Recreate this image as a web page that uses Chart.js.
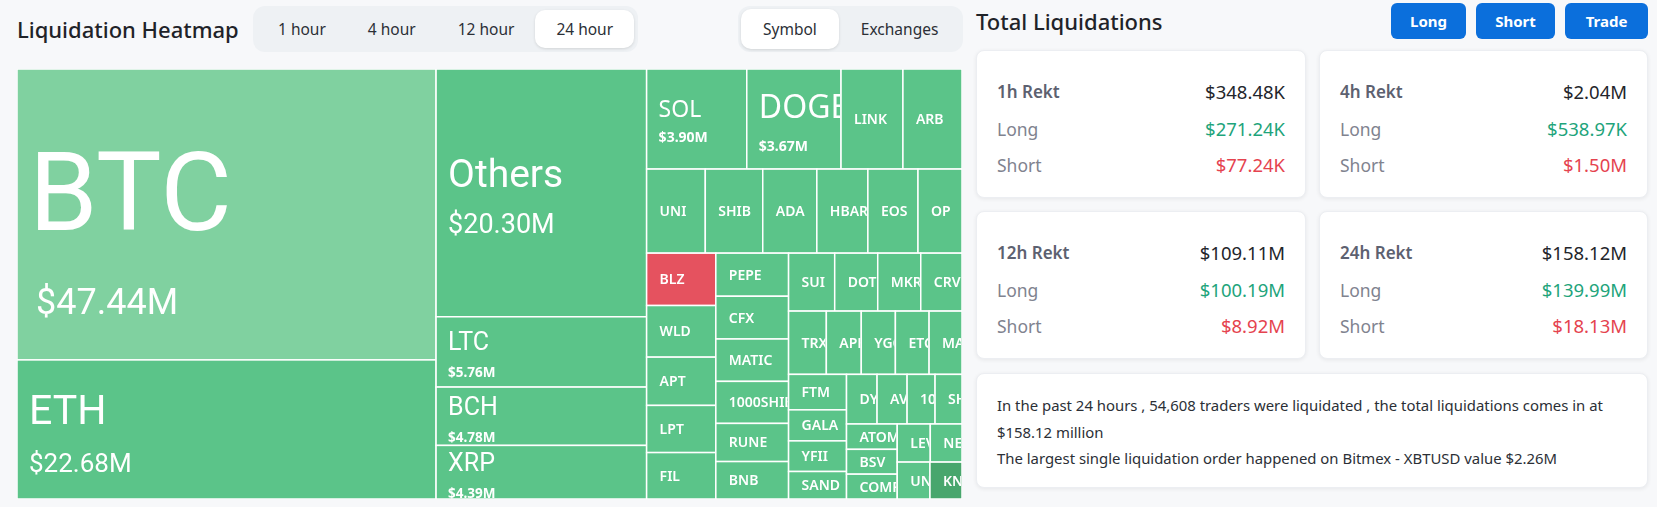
<!DOCTYPE html>
<html>
<head>
<meta charset="utf-8">
<script src="https://cdn.jsdelivr.net/npm/chart.js@4.4.0/dist/chart.umd.min.js"></script>
<style>
  body { margin: 0; width: 1657px; height: 507px; background: #f7f8fa; font-family: "Noto Sans", sans-serif; color: #1f2329; position: relative; overflow: hidden; }
  .title { position: absolute; top: 0; height: 58px; line-height: 58px; font-size: 22px; font-weight: 500; color: #1f2329; }
  .tabs { position: absolute; top: 6px; height: 46px; box-sizing: border-box; padding: 4px; background: #eef1f4; border-radius: 12px; display: flex; }
  .tabs span { display: block; height: 38px; line-height: 38px; padding: 0 21px; font-size: 15.5px; color: #2b2f36; border-radius: 10px; }
  .tabs span.on { background: #fff; box-shadow: 0 1px 3px rgba(0,0,0,.12); }
  #wrap { position: absolute; left: 17px; top: 69px; width: 945px; height: 430px; }
  .btn { position: absolute; top: 3px; height: 36px; line-height: 36px; text-align: center; background: #0b6fdc; color: #fff; font-weight: 700; font-size: 15px; border-radius: 6px; }
  .card { position: absolute; background: #fff; border: 1px solid #eceef2; border-radius: 8px; box-shadow: 0 1px 4px rgba(0,0,0,.07); box-sizing: border-box; }
  .rekt { padding: 23px 20px 0 20px; }
  .row { display: flex; justify-content: space-between; height: 36.5px; line-height: 36.5px; font-size: 17.5px; }
  .row .k { color: #80838f; }
  .row.head .k { color: #5d6170; font-weight: 600; font-size: 17px; }
  .row .v { color: #23252b; font-size: 18.5px; }
  .row .v.long { color: #1ea47b; }
  .row .v.short { color: #e5434f; }
  .note { padding: 18px 20px 0 20px; font-size: 14.9px; line-height: 26.5px; color: #2b2f36; white-space: nowrap; }
</style>
</head>
<body>
<div class="title" style="left:17px">Liquidation Heatmap</div>
<div class="tabs" style="left:253px">
  <span>1 hour</span><span>4 hour</span><span>12 hour</span><span class="on">24 hour</span>
</div>
<div class="tabs" style="left:738px;padding:3px">
  <span class="on" style="height:40px;line-height:40px;padding:0 22px">Symbol</span><span style="height:40px;line-height:40px;padding:0 22px">Exchanges</span>
</div>
<div id="wrap"><canvas id="heatmap"></canvas></div>

<div class="title" style="left:976px;height:42px;line-height:42px">Total Liquidations</div>
<div class="btn" style="left:1391px;width:75px">Long</div>
<div class="btn" style="left:1476px;width:79px">Short</div>
<div class="btn" style="left:1565px;width:83px">Trade</div>
<div id="cards"></div>
<div class="card note" style="left:976px;top:373px;width:672px;height:115px">
  In the past 24 hours , 54,608 traders were liquidated , the total liquidations comes in at<br>
  $158.12 million<br>
  The largest single liquidation order happened on Bitmex - XBTUSD value $2.26M
</div>

<script>
// 24h liquidations by symbol, in $M (sorted largest first, as the treemap lays them out)
const symbols = ["BTC", "ETH", "Others", "LTC", "BCH", "XRP", "SOL", "DOGE", "LINK", "ARB",
  "UNI", "SHIB", "ADA", "HBAR", "EOS", "OP", "BLZ", "WLD", "APT", "LPT", "FIL",
  "PEPE", "CFX", "MATIC", "1000SHIB", "RUNE", "BNB", "SUI", "DOT", "MKR", "CRV",
  "TRX", "APE", "YGG", "ETC", "MAGIC", "FTM", "GALA", "YFII", "SAND",
  "DYDX", "AVAX", "1000LUNC", "SHIB", "ATOM", "BSV", "COMP", "LEVER", "NEAR", "UNFI", "KNC"];
const liquidations = [47.44, 22.68, 20.30, 5.76, 4.78, 4.39, 3.90, 3.67, 2.41, 2.30,
  1.92, 1.88, 1.77, 1.67, 1.64, 1.44, 1.41, 1.39, 1.30, 1.27, 1.25,
  1.22, 1.21, 1.20, 1.19, 1.08, 1.06, 1.04, 0.97, 0.97, 0.93,
  0.93, 0.86, 0.84, 0.83, 0.81, 0.80, 0.70, 0.69, 0.62,
  0.59, 0.58, 0.54, 0.52, 0.50, 0.49, 0.49, 0.49, 0.47, 0.47, 0.46];
const showValue = ["BTC", "ETH", "Others", "LTC", "BCH", "XRP", "SOL", "DOGE"];

// summary cards
const periods = ["1h", "4h", "12h", "24h"];
const rektTotal = ["$348.48K", "$2.04M", "$109.11M", "$158.12M"];
const rektLong = ["$271.24K", "$538.97K", "$100.19M", "$139.99M"];
const rektShort = ["$77.24K", "$1.50M", "$8.92M", "$18.13M"];

const GREEN = "#5bc489";
const cellColors = { BTC: "#80d1a0", BLZ: "#e5525f", KNC: "#48a66d" };
const labelStyles = {
  BTC:    { l: "400 110px Roboto", v: "400 36px Roboto", lc: 79, vc: 26, gap: 58, dy: 18, vx: 7 },
  Others: { l: "400 39px Roboto", v: "400 27px Roboto", lc: 28, vc: 19, gap: 27, dy: 3 },
  ETH:    { l: "400 41px Roboto", v: "400 26px Roboto", lc: 29, vc: 19, gap: 29, dy: 4 },
  LTC:    { l: "400 25px Roboto", v: "700 13.5px 'Noto Sans'", lc: 18, vc: 10, gap: 17, dy: 3 },
  BCH:    { l: "400 25px Roboto", v: "700 13.5px 'Noto Sans'", lc: 18, vc: 10, gap: 17, dy: 3 },
  XRP:    { l: "400 25px Roboto", v: "700 13.5px 'Noto Sans'", lc: 18, vc: 10, gap: 17, dy: 3 },
  SOL:    { l: "400 23px 'Noto Sans'", v: "700 14px 'Noto Sans'", lc: 17, vc: 10, gap: 15, dy: 2 },
  DOGE:   { l: "400 32px 'Noto Sans'", v: "700 14px 'Noto Sans'", lc: 23, vc: 10, gap: 23, dy: 4 }
};

// d3-style squarified layout (golden ratio target)
function squarify(values, x0, y0, x1, y1) {
  const ratio = (1 + Math.sqrt(5)) / 2;
  const cells = [];
  let value = values.reduce((a, b) => a + b, 0);
  let i0 = 0;
  while (i0 < values.length) {
    const dx = x1 - x0, dy = y1 - y0;
    let i1 = i0;
    let sum = values[i1++];
    let min = sum, max = sum;
    const alpha = Math.max(dy / dx, dx / dy) / (value * ratio);
    let beta = sum * sum * alpha;
    let minRatio = Math.max(max / beta, beta / min);
    for (; i1 < values.length; ++i1) {
      const v = values[i1];
      sum += v;
      if (v < min) min = v;
      if (v > max) max = v;
      beta = sum * sum * alpha;
      const r = Math.max(max / beta, beta / min);
      if (r > minRatio) { sum -= v; break; }
      minRatio = r;
    }
    if (dx < dy) {
      const yEnd = y0 + dy * sum / value;
      let x = x0;
      for (let i = i0; i < i1; i++) {
        const w = dx * values[i] / sum;
        cells.push({ i, x0: x, y0, x1: x + w, y1: yEnd });
        x += w;
      }
      y0 = yEnd;
    } else {
      const xEnd = x0 + dx * sum / value;
      let y = y0;
      for (let i = i0; i < i1; i++) {
        const h = dy * values[i] / sum;
        cells.push({ i, x0, y0: y, x1: xEnd, y1: y + h });
        y += h;
      }
      x0 = xEnd;
    }
    value -= sum;
    i0 = i1;
  }
  return cells;
}

const treemapPlugin = {
  id: "treemap",
  afterDatasetsDraw(chart, args, opts) {
    const { ctx, scales: { x, y } } = chart;
    const aspect = (x.right - x.left) / (y.bottom - y.top);
    const cells = squarify(opts.values, 0, 0, aspect, 1);
    ctx.save();
    cells.forEach(c => {
      const name = opts.labels[c.i];
      const px0 = x.getPixelForValue(c.x0 / aspect), px1 = x.getPixelForValue(c.x1 / aspect);
      const py0 = y.getPixelForValue(c.y0), py1 = y.getPixelForValue(c.y1);
      const w = px1 - px0, h = py1 - py0;
      ctx.fillStyle = cellColors[name] || GREEN;
      ctx.fillRect(px0, py0, w, h);
      ctx.strokeStyle = "#fff";
      ctx.lineWidth = 1.5;
      ctx.strokeRect(px0, py0, w, h);

      ctx.save();
      ctx.beginPath();
      ctx.rect(px0, py0, w - 1, h);
      ctx.clip();
      ctx.fillStyle = "#fff";
      ctx.textAlign = "left";
      const st = labelStyles[name];
      if (st && showValue.includes(name)) {
        const groupH = st.lc + st.gap + st.vc;
        const top = py0 + h / 2 - groupH / 2 + st.dy;
        ctx.textBaseline = "alphabetic";
        ctx.font = st.l;
        ctx.fillText(name, px0 + 12, top + st.lc);
        ctx.font = st.v;
        ctx.fillText("$" + opts.values[c.i].toFixed(2) + "M", px0 + 12 + (st.vx || 0), top + st.lc + st.gap + st.vc);
      } else {
        ctx.textBaseline = "middle";
        ctx.font = "600 14px 'Noto Sans'";
        ctx.fillText(name, px0 + 13, py0 + h / 2 + 1);
      }
      ctx.restore();
    });
    ctx.restore();
  }
};

new Chart(document.getElementById("heatmap"), {
  type: "scatter",
  data: { datasets: [{ label: "Liquidations", data: [], pointRadius: 0 }] },
  options: {
    responsive: true,
    maintainAspectRatio: false,
    animation: false,
    layout: { padding: 0 },
    scales: {
      x: { type: "linear", min: 0, max: 1, display: false },
      y: { type: "linear", min: 0, max: 1, reverse: true, display: false }
    },
    plugins: {
      legend: { display: false },
      tooltip: { enabled: false },
      treemap: { values: liquidations, labels: symbols }
    }
  },
  plugins: [treemapPlugin]
});

// summary cards
const cardBox = document.getElementById("cards");
periods.forEach((p, i) => {
  const el = document.createElement("div");
  el.className = "card rekt";
  el.style.left = (i % 2 ? 1319 : 976) + "px";
  el.style.top = (i < 2 ? 50 : 211) + "px";
  el.style.width = (i % 2 ? 329 : 330) + "px";
  el.style.height = "148px";
  el.innerHTML =
    `<div class="row head"><span class="k">${p} Rekt</span><span class="v">${rektTotal[i]}</span></div>` +
    `<div class="row"><span class="k">Long</span><span class="v long">${rektLong[i]}</span></div>` +
    `<div class="row"><span class="k">Short</span><span class="v short">${rektShort[i]}</span></div>`;
  cardBox.appendChild(el);
});
</script>
</body>
</html>
